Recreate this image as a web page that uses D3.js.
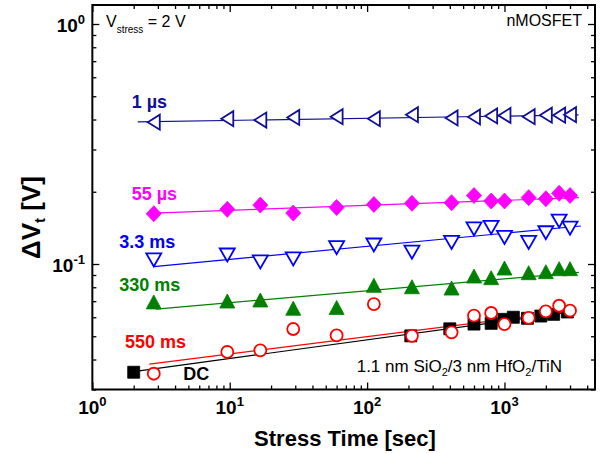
<!DOCTYPE html>
<html>
<head>
<meta charset="utf-8">
<script src="https://cdn.jsdelivr.net/npm/d3@7"></script>
<style>
  html, body { margin: 0; padding: 0; background: #fff; }
  svg { display: block; }
  text { font-family: Arial, "Liberation Sans", sans-serif; }
</style>
</head>
<body>
<svg id="chart" width="600" height="453"></svg>
<script>
// ---------- data ----------
const times = [2.8, 9.6, 16.7, 29, 60, 112, 212, 412, 600, 800, 1000, 1500, 2000, 2500, 3000];
const dv1us   = [0.390, 0.403, 0.398, 0.408, 0.411, 0.403, 0.419, 0.406, 0.410, 0.414, 0.416, 0.411, 0.417, 0.417, 0.419];
const dv55us  = [0.162, 0.169, 0.176, 0.163, 0.172, 0.177, 0.179, 0.180, 0.193, 0.183, 0.183, 0.189, 0.187, 0.197, 0.193];
const dv3p3ms = [0.104, 0.109, 0.102, 0.105, 0.117, 0.120, 0.112, 0.123, 0.140, 0.142, 0.129, 0.123, 0.135, 0.151, 0.141];
const dv330ms = [0.0695, 0.0701, 0.0708, 0.0654, 0.0659, 0.0815, 0.0804, 0.0794, 0.0891, 0.0877, 0.0962, 0.0920, 0.0929, 0.0956, 0.0956];
const dv550ms = [0.0349, 0.0430, 0.0437, 0.0536, 0.0504, 0.0681, 0.0502, 0.0519, 0.0609, 0.0625, 0.0562, 0.0596, 0.0635, 0.0670, 0.0639];
const timesDC = [2, 208, 400, 600, 800, 990, 1160, 1470, 1840, 2280, 2870];
const dvDC    = [0.0354, 0.0502, 0.0537, 0.0562, 0.0566, 0.0588, 0.0600, 0.0594, 0.0607, 0.0617, 0.0631];

// fitted power-law lines: [start, end] as [time, dVt]
const fit1us   = [[2.14, 0.391], [3460, 0.418]];
const fit55us  = [[2.8, 0.163], [3480, 0.189]];
const fit3p3ms = [[2.8, 0.0975], [3600, 0.144]];
const fit330ms = [[2.9, 0.0649], [3480, 0.0922]];
const fit550ms = [[2.6, 0.0383], [3040, 0.0637]];
const fitDC    = [[2.0, 0.0356], [3040, 0.0631]];

const seriesNames = ["1 µs", "55 µs", "3.3 ms", "330 ms", "550 ms", "DC"];

const xMajorTicks = [1, 10, 100, 1000];
const xTickExp = ["0", "1", "2", "3"];
const yMajorTicks = [0.1, 1];
const yTickExp = ["-1", "0"];

// ---------- layout ----------
const svg = d3.select("#chart");
const L = 92.35, R = 595, T = 5, B = 389.5;
const x = d3.scaleLog().domain([1, 4560]).range([L, R]);
const y = d3.scaleLog().domain([0.03, 1.2]).range([B, T]);

const xMinor = [];
[1, 10, 100, 1000].forEach(d => { for (let k = 2; k <= 9; k++) if (d * k <= 4560) xMinor.push(d * k); });
const yMinor = [];
[0.01, 0.1].forEach(d => { for (let k = 2; k <= 9; k++) { const v = d * k; if (v >= 0.03 && v <= 1.2) yMinor.push(v); } });

function axisDraw(gen, tr) {
  const g = svg.append("g").attr("transform", tr).call(gen);
  g.select(".domain").remove();
  g.selectAll("text").remove();
  g.selectAll("line").attr("stroke", "#000").attr("stroke-width", 1.3);
  return g;
}
const MJ = 7, MN = 4;
axisDraw(d3.axisBottom(x).tickValues(xMajorTicks).tickSize(-MJ), `translate(0,${B})`);
axisDraw(d3.axisBottom(x).tickValues(xMinor).tickSize(-MN), `translate(0,${B})`);
axisDraw(d3.axisTop(x).tickValues(xMajorTicks).tickSize(-MJ), `translate(0,${T})`);
axisDraw(d3.axisTop(x).tickValues(xMinor).tickSize(-MN), `translate(0,${T})`);
axisDraw(d3.axisLeft(y).tickValues(yMajorTicks).tickSize(-MJ), `translate(${L},0)`);
axisDraw(d3.axisLeft(y).tickValues(yMinor).tickSize(-MN), `translate(${L},0)`);
axisDraw(d3.axisRight(y).tickValues(yMajorTicks).tickSize(-MJ), `translate(${R},0)`);
axisDraw(d3.axisRight(y).tickValues(yMinor).tickSize(-MN), `translate(${R},0)`);

// frame
svg.append("rect").attr("x", L).attr("y", T).attr("width", R - L).attr("height", B - T)
  .attr("fill", "none").attr("stroke", "#000").attr("stroke-width", 2);

// tick labels
xMajorTicks.forEach((v, i) => {
  const t = svg.append("text").attr("x", x(v)).attr("y", 414).attr("text-anchor", "middle")
    .attr("font-size", 19).attr("font-weight", "bold");
  t.append("tspan").text("10");
  t.append("tspan").attr("dy", -8).attr("font-size", 13).text(xTickExp[i]);
});
yMajorTicks.forEach((v, i) => {
  const t = svg.append("text").attr("x", 85).attr("y", y(v) + 8).attr("text-anchor", "end")
    .attr("font-size", 19).attr("font-weight", "bold");
  t.append("tspan").text("10");
  t.append("tspan").attr("dy", -8).attr("font-size", 13).text(yTickExp[i]);
});

// axis titles
svg.append("text").attr("x", 345).attr("y", 446).attr("text-anchor", "middle")
  .attr("font-size", 22).attr("font-weight", "bold").text("Stress Time [sec]");
const yl = svg.append("text").attr("transform", "translate(40,217.5) rotate(-90)")
  .attr("text-anchor", "middle").attr("font-size", 26).attr("font-weight", "bold");
yl.append("tspan").text("ΔV");
yl.append("tspan").attr("font-size", 15).attr("dy", 5).text("t");
yl.append("tspan").attr("dy", -5).text(" [V]");

// ---------- series ----------
const shapes = {
  left:  "M-6,0L6,-7.5L6,7.5Z",
  down:  "M-7.5,-6.5L7.5,-6.5L0,6.5Z",
  up:    "M0,-7L7.5,7L-7.5,7Z",
  diamond: "M0,-8L7.5,0L0,8L-7.5,0Z",
  square: "M-6,-6L6,-6L6,6L-6,6Z"
};
const series = [
  { name: seriesNames[5], t: timesDC, v: dvDC, fit: fitDC, color: "#000000", shape: "square", fill: true },
  { name: seriesNames[4], t: times, v: dv550ms, fit: fit550ms, color: "#ff0000", shape: "circle", fill: false },
  { name: seriesNames[3], t: times, v: dv330ms, fit: fit330ms, color: "#008000", shape: "up", fill: true },
  { name: seriesNames[2], t: times, v: dv3p3ms, fit: fit3p3ms, color: "#0000ff", shape: "down", fill: false },
  { name: seriesNames[1], t: times, v: dv55us, fit: fit55us, color: "#ff00ff", shape: "diamond", fill: true },
  { name: seriesNames[0], t: times, v: dv1us, fit: fit1us, color: "#101096", shape: "left", fill: false }
];

const line = d3.line().x(d => x(d[0])).y(d => y(d[1]));
series.forEach(s => {
  svg.append("path").attr("d", line(s.fit)).attr("fill", "none")
    .attr("stroke", s.color).attr("stroke-width", 1.2);
});
series.forEach(s => {
  const pts = s.t.map((t, i) => [t, s.v[i]]);
  const g = svg.append("g");
  if (s.shape === "circle") {
    g.selectAll("circle").data(pts).join("circle")
      .attr("cx", d => x(d[0])).attr("cy", d => y(d[1])).attr("r", 6)
      .attr("fill", "#fff").attr("stroke", s.color).attr("stroke-width", 1.8);
  } else {
    g.selectAll("path").data(pts).join("path")
      .attr("transform", d => `translate(${x(d[0])},${y(d[1])})`)
      .attr("d", shapes[s.shape])
      .attr("fill", s.fill ? s.color : "#fff")
      .attr("stroke", s.color).attr("stroke-width", s.fill ? 0.8 : 1.8)
      .attr("stroke-linejoin", "miter");
  }
});

// series labels
const labelPos = {
  "1 µs":   [131.7, 108.3, "#101096"],
  "55 µs":  [131.7, 200, "#ff00ff"],
  "3.3 ms": [119.3, 247.7, "#0000ff"],
  "330 ms": [119.3, 291, "#008000"],
  "550 ms": [125, 348.3, "#ff0000"],
  "DC":     [183.3, 380, "#000000"]
};
seriesNames.forEach(n => {
  const p = labelPos[n];
  svg.append("text").attr("x", p[0]).attr("y", p[1]).attr("font-size", 18)
    .attr("font-weight", "bold").attr("fill", p[2]).text(n);
});

// annotations
const vs = svg.append("text").attr("x", 106).attr("y", 27.3).attr("font-size", 16);
vs.append("tspan").text("V");
vs.append("tspan").attr("font-size", 10).attr("dy", 6).text("stress");
vs.append("tspan").attr("dy", -6).text(" = 2 V");

svg.append("text").attr("x", 582).attr("y", 26).attr("text-anchor", "end")
  .attr("font-size", 16).text("nMOSFET");

const st = svg.append("text").attr("x", 356.7).attr("y", 371.7).attr("font-size", 17);
st.append("tspan").text("1.1 nm SiO");
st.append("tspan").attr("font-size", 11).attr("dy", 4).text("2");
st.append("tspan").attr("dy", -4).text("/3 nm HfO");
st.append("tspan").attr("font-size", 11).attr("dy", 4).text("2");
st.append("tspan").attr("dy", -4).text("/TiN");
</script>
</body>
</html>
